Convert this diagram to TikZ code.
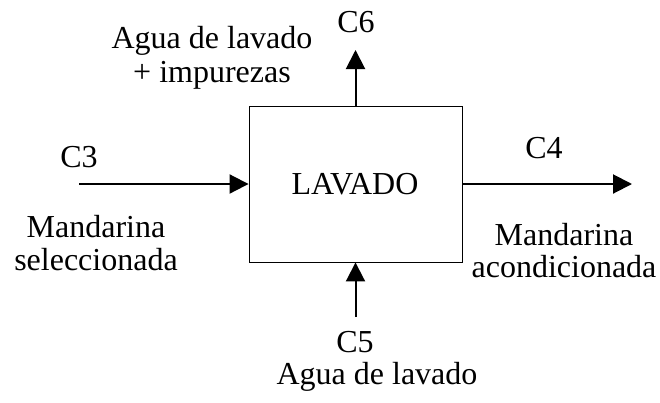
\documentclass[tikz,border=0pt]{standalone}
\usepackage{fontspec}
\setmainfont{Liberation Serif}
\usetikzlibrary{arrows.meta}
\begin{document}
\begin{tikzpicture}[x=1pt,y=-1pt,
  lbl/.style={anchor=base,inner sep=0pt,font=\fontsize{32}{34}\selectfont},
  flow/.style={line width=2pt,-{Triangle[length=19pt,width=19pt]}},
  procbox/.style={draw,line width=0.9pt,minimum width=213pt,minimum height=156pt,inner sep=0pt}]
\useasboundingbox (0,0) rectangle (660,402);
\node[procbox] (box) at (355.5,184) {};
\node[lbl] (lav) at (355,194) {LAVADO};
\coordinate (c3s) at (79,184);
\coordinate (c4e) at (632,184);
\coordinate (c6e) at (355.5,50);
\coordinate (c5s) at (355.5,317);
\draw[flow] (c3s) -- (box.west);
\draw[flow] (box.east) -- (c4e);
\draw[flow] (box.north) -- (c6e);
\draw[flow] (c5s) -- (box.south);
\node[lbl] (t6) at (356,32) {C6};
\node[lbl] (a1) at (212,48) {Agua de lavado};
\node[lbl] (a2) at (212,82) {+ impurezas};
\node[lbl] (t3) at (79,167) {C3};
\node[lbl] (m1) at (96,237) {Mandarina};
\node[lbl] (m2) at (96,270) {seleccionada};
\node[lbl] (t4) at (544,158) {C4};
\node[lbl] (r1) at (564,245) {Mandarina};
\node[lbl] (r2) at (564,277) {acondicionada};
\node[lbl] (t5) at (355,352) {C5};
\node[lbl] (b1) at (377,384) {Agua de lavado};
\end{tikzpicture}
\end{document}
